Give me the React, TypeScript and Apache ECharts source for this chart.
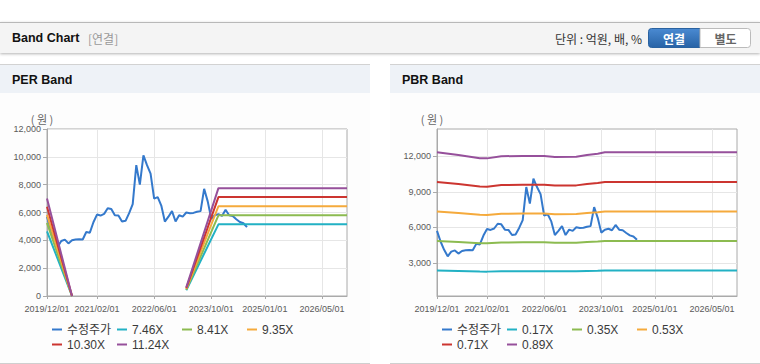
import React, { useEffect, useRef } from 'react';
import * as echarts from 'echarts';

// ---------- data ----------
const xTickLabels = ['2019/12/01', '2021/02/01', '2022/06/01', '2023/10/01', '2025/01/01', '2026/05/01'];
const firstMonth = { year: 2019, month: 12 };
const monthCount = 85; // 2019/12 .. 2026/12
const months: string[] = [];
for (let i = 0; i < monthCount; i++) {
  const t = firstMonth.year * 12 + (firstMonth.month - 1) + i;
  months.push(`${Math.floor(t / 12)}/${String((t % 12) + 1).padStart(2, '0')}/01`);
}

// adjusted price (수정주가), monthly from 2019/12
const price = [
  5700, 4800, 4100, 3550, 3950, 4050, 3780, 4000, 4060, 4080,
  4060, 4600, 4550, 5300, 5850, 5780, 5900, 6300, 6250, 5800,
  5780, 5350, 5400, 5950, 6600, 9400, 8000, 10100, 9400, 8800,
  7000, 7100, 6500, 5350, 5700, 6100, 5350, 5800, 5700, 6000,
  5950, 5970, 6050, 6100, 7700, 6800, 5550, 5800, 5880, 5750,
  6200, 5800, 5750, 5520, 5320, 5230, 4950,
];

// PER band: key month indexes (null value = break in line)
const perNames = ['7.46X', '8.41X', '9.35X', '10.30X', '11.24X'];
const perKeyIdx = [0, 7, 8, 39, 48, 84];
const per746 = [4650, 0, null, 410, 5150, 5150];
const per841 = [5250, 0, null, 460, 5800, 5800];
const per935 = [5830, 0, null, 510, 6450, 6450];
const per1030 = [6420, 0, null, 560, 7110, 7110];
const per1124 = [7000, 0, null, 620, 7750, 7750];

// PBR band
const pbrNames = ['0.17X', '0.35X', '0.53X', '0.71X', '0.89X'];
const pbrKeyIdx = [0, 6, 12, 14, 18, 24, 30, 33, 39, 42, 45, 47, 84];
const pbr017 = [2355, 2310, 2260, 2258, 2290, 2300, 2300, 2280, 2283, 2310, 2330, 2355, 2355];
const pbr035 = [4850, 4760, 4655, 4650, 4720, 4730, 4730, 4700, 4700, 4760, 4800, 4850, 4850];
const pbr053 = [7340, 7210, 7050, 7040, 7140, 7170, 7170, 7110, 7120, 7210, 7270, 7340, 7340];
const pbr071 = [9830, 9660, 9440, 9430, 9570, 9600, 9600, 9530, 9540, 9660, 9740, 9830, 9830];
const pbr089 = [12330, 12100, 11840, 11820, 12000, 12030, 12030, 11940, 11950, 12100, 12210, 12330, 12330];

const perTicks = { min: 0, max: 12000, interval: 2000 };
const pbrTicks = { min: 200, max: 14300, labels: [3000, 6000, 9000, 12000] };

// ---------- styles ----------
const colors = ['#3479cc', '#22b1c4', '#8cbb50', '#f5aa3c', '#cc3530', '#96509b'];
const axisFont = "'Liberation Sans', Arial, sans-serif";
const sans = "'Liberation Sans', Arial, 'Noto Sans CJK KR', sans-serif";
const kr = "'Noto Sans CJK KR', sans-serif";

const fmt = (v: number) => String(v).replace(/\B(?=(\d{3})+(?!\d))/g, ',');
const isTick = (_i: number, v: string) => xTickLabels.includes(v);

const pairs = (idx: number[], vals: (number | null)[]) =>
  idx.map((i, k) => [i, vals[k] === null ? '-' : vals[k]]);

export default function App() {
  const ref = useRef<HTMLDivElement>(null);
  useEffect(() => {
    if (!ref.current) return;
    const chart = echarts.init(ref.current, undefined, { renderer: 'svg' });
    const gridLefts = [47, 437];
    const grids = gridLefts.map((l) => ({
      left: l, top: 129, width: 300, height: 167, show: true,
      borderColor: '#aaa', borderWidth: 1, backgroundColor: '#fff',
    }));
    const xAxes = gridLefts.map((_, g) => ({
      type: 'category', gridIndex: g, data: months, boundaryGap: false,
      axisLine: { lineStyle: { color: '#aaa' } },
      axisTick: { interval: isTick, length: 3, lineStyle: { color: '#aaa' } },
      axisLabel: { interval: isTick, showMinLabel: true, hideOverlap: false, color: '#5a5a5a', fontSize: 9, fontFamily: axisFont, margin: 8 },
      splitLine: { show: true, interval: isTick, lineStyle: { color: '#e6e6e6' } },
    }));
    const yAxes = [
      {
        type: 'value', gridIndex: 0, min: perTicks.min, max: perTicks.max, interval: perTicks.interval,
        axisLine: { show: true, lineStyle: { color: '#aaa' } },
        axisTick: { show: true, length: 4, lineStyle: { color: '#aaa' } },
        axisLabel: { color: '#5a5a5a', fontSize: 9, fontFamily: axisFont, margin: 6, formatter: (v: number) => fmt(v) },
        splitLine: { lineStyle: { color: '#e6e6e6' } },
      },
      {
        type: 'value', gridIndex: 1, min: pbrTicks.min, max: pbrTicks.max,
        axisLine: { show: true, lineStyle: { color: '#aaa' } },
        axisTick: { show: true, length: 4, customValues: pbrTicks.labels, lineStyle: { color: '#aaa' } },
        axisLabel: { color: '#5a5a5a', fontSize: 9, fontFamily: axisFont, margin: 6, customValues: pbrTicks.labels, formatter: (v: number) => fmt(v) },
        splitLine: { lineStyle: { color: '#e6e6e6' } },
      },
    ];
    const line = (name: string, g: number, data: any[], color: string) => ({
      name, type: 'line', xAxisIndex: g, yAxisIndex: g, data, symbol: 'none', showSymbol: false,
      lineStyle: { width: 2, color }, itemStyle: { color }, connectNulls: false, silent: true,
    });
    const perVals = [per746, per841, per935, per1030, per1124];
    const pbrVals = [pbr017, pbr035, pbr053, pbr071, pbr089];
    const series: any[] = [
      line('수정주가', 0, price, colors[0]),
      ...perNames.map((n, k) => line(n, 0, pairs(perKeyIdx, perVals[k]), colors[k + 1])),
      line('수정주가', 1, price, colors[0]),
      ...pbrNames.map((n, k) => line(n, 1, pairs(pbrKeyIdx, pbrVals[k]), colors[k + 1])),
    ];
    const legendPos = [[0, 0], [65, 0], [130, 0], [195, 0], [0, 1], [65, 1]];
    const legends: any[] = [];
    [['수정주가', ...perNames], ['수정주가', ...pbrNames]].forEach((names, g) => {
      names.forEach((n, k) => {
        legends.push({
          data: [n], left: 52 + g * 390 + legendPos[k][0], top: 323.5 + legendPos[k][1] * 15,
          padding: 0, icon: 'rect', itemWidth: 10, itemHeight: 2, selectedMode: false,
          textStyle: { fontSize: 12, color: '#3a3a3a', fontFamily: sans },
        });
      });
    });
    const graphic: any[] = [
      { type: 'rect', z: -10, shape: { x: 0, y: 22, width: 760, height: 31 },
        style: { fill: '#f4f4f4', shadowBlur: 3, shadowOffsetY: 1, shadowColor: 'rgba(0,0,0,0.3)' } },
      { type: 'line', z: -9, shape: { x1: 0, y1: 22.5, x2: 760, y2: 22.5 }, style: { stroke: '#b8b8b8', lineWidth: 1 } },
      { type: 'text', x: 12, y: 38, style: { text: 'Band Chart', font: `bold 12.5px ${sans}`, fill: '#111', verticalAlign: 'middle' } },
      { type: 'text', x: 88, y: 38, style: { text: '[연결]', font: `12px ${kr}`, fill: '#999', verticalAlign: 'middle' } },
      { type: 'text', x: 642, y: 38.5, style: { text: '단위 : 억원, 배, %', font: `12px ${kr}`, fill: '#333', align: 'right', verticalAlign: 'middle' } },
      { type: 'rect', shape: { x: 648.5, y: 28.5, width: 51.5, height: 19, r: [3, 0, 0, 3] },
        style: { fill: new echarts.graphic.LinearGradient(0, 0, 0, 1, [{ offset: 0, color: '#4a8ad2' }, { offset: 1, color: '#2863a6' }]), stroke: '#2a62a0', lineWidth: 1 } },
      { type: 'text', x: 674, y: 38.5, style: { text: '연결', font: `bold 12px ${kr}`, fill: '#fff', align: 'center', verticalAlign: 'middle' } },
      { type: 'rect', shape: { x: 700, y: 28.5, width: 50.5, height: 19, r: [0, 3, 3, 0] },
        style: { fill: '#fff', stroke: '#bbb', lineWidth: 1 } },
      { type: 'text', x: 725.5, y: 38.5, style: { text: '별도', font: `bold 12px ${kr}`, fill: '#666', align: 'center', verticalAlign: 'middle' } },
    ];
    [[0, 370, 'PER Band', 47], [390, 370, 'PBR Band', 437]].forEach(([x0, w, title, axX]: any) => {
      graphic.push(
        { type: 'rect', z: -10, shape: { x: x0, y: 93, width: w, height: 270 }, style: { fill: '#fdfdfd' } },
        { type: 'rect', z: -10, shape: { x: x0, y: 64, width: w, height: 29 }, style: { fill: '#eef2f7' } },
        { type: 'line', z: -9, shape: { x1: x0, y1: 64.5, x2: x0 + w, y2: 64.5 }, style: { stroke: '#d2d2d2', lineWidth: 1 } },
        { type: 'line', z: -9, shape: { x1: x0, y1: 363.5, x2: x0 + w, y2: 363.5 }, style: { stroke: '#cfcfcf', lineWidth: 1 } },
        { type: 'text', x: x0 + 12, y: 79.5, style: { text: title, font: `bold 12.5px ${sans}`, fill: '#111', verticalAlign: 'middle' } },
        { type: 'text', x: axX - 5, y: 118.5, style: { text: '( 원 )', font: `11px ${kr}`, fill: '#666', align: 'center', verticalAlign: 'middle' } },
      );
    });
    chart.setOption({
      animation: false,
      backgroundColor: '#fff',
      grid: grids,
      xAxis: xAxes,
      yAxis: yAxes,
      legend: legends,
      series,
      graphic,
    });
    return () => chart.dispose();
  }, []);
  return <div ref={ref} style={{ position: 'absolute', left: 0, top: 0, width: 760, height: 364 }} />;
}
